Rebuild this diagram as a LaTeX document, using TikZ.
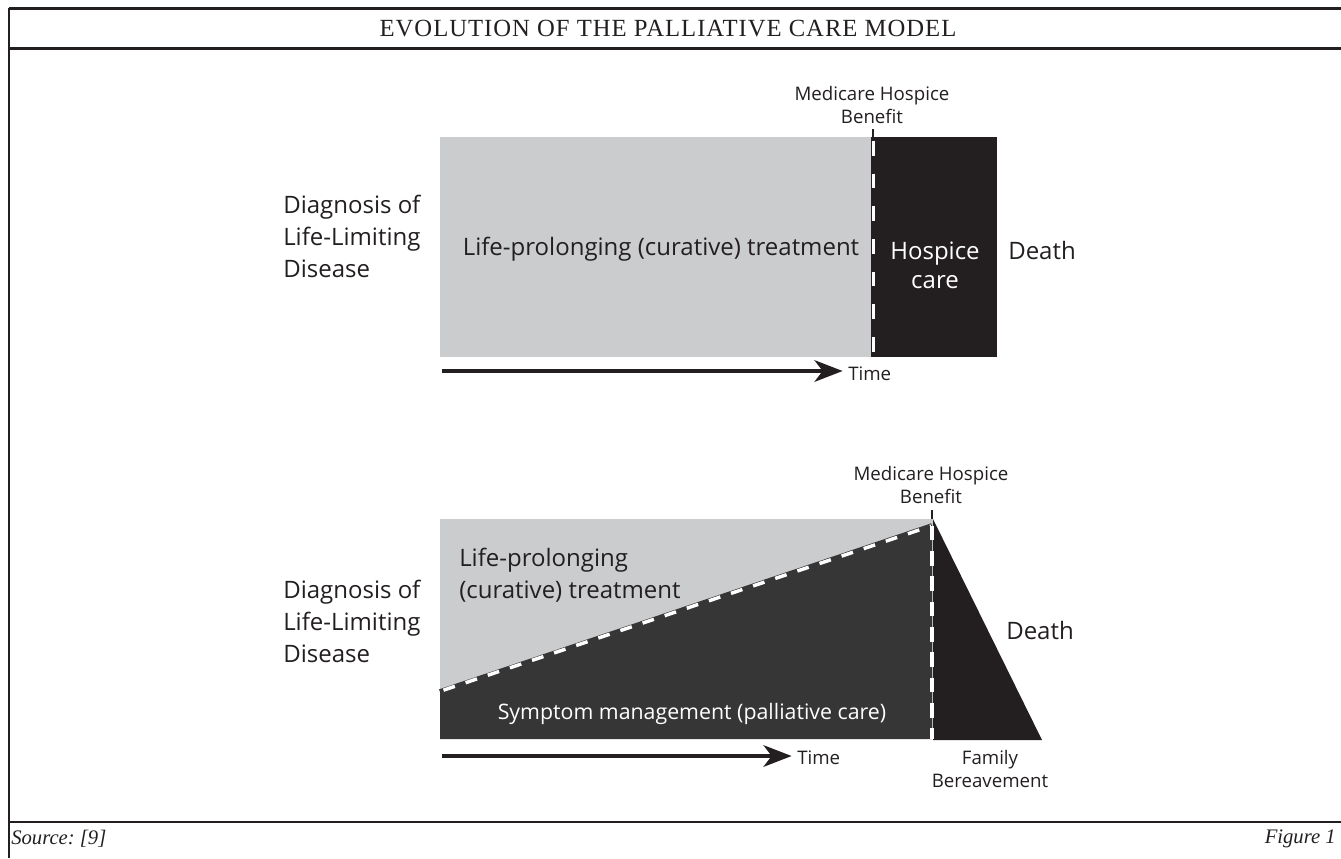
\documentclass[tikz,border=0pt]{standalone}
\usepackage{fontspec}
\setmainfont{Liberation Serif}
\newfontfamily\myriad{Open Sans}
\newfontfamily\titlefont[LetterSpace=4]{Liberation Serif}
\usepackage{tikz}
\usetikzlibrary{arrows.meta}
\usetikzlibrary{positioning}

\definecolor{ink}{HTML}{231F20}
\definecolor{curegray}{HTML}{CBCCCE}
\definecolor{palldark}{HTML}{363636}

\begin{document}
\frenchspacing
\begin{tikzpicture}[x=0.75pt,y=-0.75pt,>={Stealth[length=21pt,width=16pt,inset=6pt]}]
    \tikzstyle{frameline}=[draw=ink, line width=1.9pt]
    \tikzstyle{body}=[font=\myriad\fontsize{18}{24}\selectfont, text=ink, inner sep=0pt, align=left]
    \tikzstyle{small}=[font=\myriad\fontsize{14}{17}\selectfont, text=ink, inner sep=0pt, align=center]
    \tikzstyle{onblack}=[font=\myriad\fontsize{18}{22}\selectfont, text=white, inner sep=0pt, align=center]
    \tikzstyle{caption}=[font=\itshape\fontsize{15.5}{17}\selectfont, text=ink, inner sep=0pt]
    \tikzstyle{timearrow}=[->, draw=ink, line width=3.6pt]
    \tikzstyle{whitedash}=[white, line width=2.6pt]
    %\draw[help lines] (0,0) grid[step=100] (1341,858);
    \useasboundingbox (0,0) rectangle (1341,858);

    % frame
    \draw[frameline] (9,8.5) -- (1341,8.5);
    \draw[frameline] (9,48.5) -- (1341,48.5);
    \draw[frameline] (9,7.5) -- (9,858);
    \draw[draw=ink, line width=1pt] (9,822) -- (1341,822);
    \node[font=\titlefont\fontsize{18.5}{20}\selectfont, text=ink, inner sep=0pt] (title) at (668,28.5) {EVOLUTION OF THE PALLIATIVE CARE MODEL};
    \node[caption, anchor=west] (source) at (11,839) {Source: [9]};
    \node[caption, anchor=east] (fignum) at (1336,839) {Figure 1};

    % upper model
    \fill[curegray] (440,137) rectangle (872,357);
    \fill[ink] (871,137) rectangle (997,357);
    \draw[whitedash, dash pattern=on 11pt off 13.5pt, dash phase=-3pt] (873.5,137) -- (873.5,357);
    \draw[ink, line width=0.8pt] (873,129) -- (873,137);
    \node[body, anchor=west] (diag1) at (283,236) {Diagnosis of\\Life-Limiting\\Disease};
    \node[body] (cure1) at (661,249) {Life-prolonging (curative) treatment};
    \node[onblack] (hospice) at (935,265) {Hospice\\care};
    \node[body, anchor=west] (death1) at (1008,250) {Death};
    \node[small] (mhb1) at (872,105) {Medicare Hospice\\Benefit};
    \node[small, anchor=west] (time1) at (848,374) {Time};
    \coordinate (t1) at (442,371);
    \draw[timearrow] (t1) -- ([xshift=-4pt]t1 -| time1.west);

    % lower model
    \fill[curegray] (440,519) rectangle (933,739);
    \fill[palldark] (440,692) -- (932,526) -- (932,739) -- (440,739) -- cycle;
    \fill[ink] (933,519) -- (1042,740) -- (933,740) -- cycle;
    \draw[palldark, line width=4.2pt] (440,692) -- (932,526);
    \draw[whitedash, dash pattern=on 9pt off 8.5pt, dash phase=-2pt] (441,691) -- (931,526);
    \draw[whitedash, dash pattern=on 11pt off 8pt, dash phase=-2pt] (932,523) -- (932,739);
    \draw[ink, line width=0.8pt] (932,510) -- (932,519);
    \node[body, anchor=west] (diag2) at (283,621) {Diagnosis of\\Life-Limiting\\Disease};
    \node[body, anchor=west] (cure2) at (459,575) {Life-prolonging\\(curative) treatment};
    \node[onblack, font=\myriad\fontsize{16}{20}\selectfont] (symptom) at (692,714) {Symptom management (palliative care)};
    \node[body, anchor=west] (death2) at (1006,630) {Death};
    \node[small] (mhb2) at (931,485) {Medicare Hospice\\Benefit};
    \node[small] (bereave) at (990,769) {Family\\Bereavement};
    \node[small, anchor=west] (time2) at (797,758) {Time};
    \coordinate (t2) at (442,756);
    \draw[timearrow] (t2) -- ([xshift=-4pt]t2 -| time2.west);
\end{tikzpicture}
\end{document}
